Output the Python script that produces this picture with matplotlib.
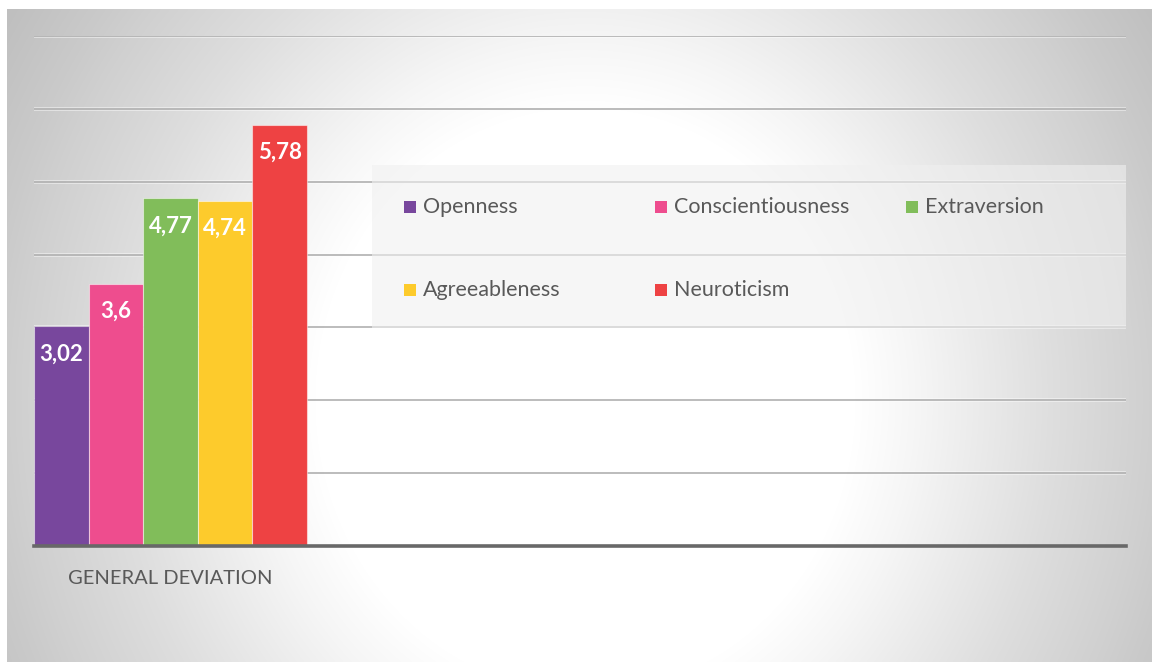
import numpy as np
import matplotlib.pyplot as plt
from matplotlib.patches import Rectangle

plt.rcParams['font.family'] = ['Lato', 'DejaVu Sans']

# data
category = "GENERAL DEVIATION"
traits = ["Openness", "Conscientiousness", "Extraversion", "Agreeableness", "Neuroticism"]
values = [3.02, 3.6, 4.77, 4.74, 5.78]
value_labels = ["3,02", "3,6", "4,77", "4,74", "5,78"]
colors = ["#78479D", "#EE4D8E", "#81BD5A", "#FDCB2C", "#EE4243"]
grid_levels = [1, 2, 3, 4, 5, 6, 7]

W, H = 1152, 662
fig = plt.figure(figsize=(W / 100, H / 100), dpi=100)

# radial grey background with a thin white margin at top and left
bg = fig.add_axes([0, 0, 1, 1], zorder=-10)
yy, xx = np.mgrid[0:H, 0:W]
d = np.sqrt(((xx - 585) / 600.0) ** 2 + ((yy - 400) / 650.0) ** 2)
shade = np.interp(d, [0.0, 0.45, 0.55, 0.78, 0.94, 1.0, 1.12, 1.4],
                  [255, 255, 246, 222, 208, 202, 192, 188])
shade[:9, :] = 255
shade[:, :7] = 255
img = np.dstack([shade, shade, shade]).astype(np.uint8)
bg.imshow(img, aspect='auto', interpolation='bilinear')
bg.axis('off')

# chart axes
left, right = 34 / W, 1126 / W
bottom, top = (H - 546) / H, (H - 36) / H
ax = fig.add_axes([left, bottom, right - left, top - bottom])
ax.set_facecolor('none')

for g in grid_levels:
    ax.axhline(g, color='white', lw=2.6, alpha=0.55, zorder=0.5)
    ax.axhline(g, color='#a9a9a9', lw=1.1, zorder=0.6)

x = np.arange(len(values))
bars = ax.bar(x, values, width=1.0, color=colors,
              edgecolor=(1, 1, 1, 0.5), linewidth=0.8, zorder=2)

for xi, v, lab in zip(x, values, value_labels):
    ax.annotate(lab, xy=(xi, v), xytext=(0, -20), textcoords='offset points',
                ha='center', va='center', color='white', fontsize=16,
                fontweight='bold', zorder=3)

ax.set_xlim(-0.5, 19.5)
ax.set_ylim(0, 7)
ax.set_yticks([])
ax.set_xticks([2])
ax.set_xticklabels([category], fontsize=14.5, color='#595959')
ax.tick_params(axis='x', length=0, pad=17)
for s in ['top', 'left', 'right']:
    ax.spines[s].set_visible(False)
ax.spines['bottom'].set_color('#686868')
ax.spines['bottom'].set_linewidth(2.6)
ax.spines['bottom'].set_zorder(4)

# legend box (semi-transparent panel with 3 columns)
fig.patches.append(Rectangle((372 / W, (H - 328) / H), (1126 - 372) / W, (328 - 165) / H,
                             transform=fig.transFigure, facecolor='#f0f0f0',
                             alpha=0.6, edgecolor='none', zorder=5))
col_x = [404, 655, 906]
row_y = [207, 290]
for i, (name, c) in enumerate(zip(traits, colors)):
    px = col_x[i % 3]
    py = row_y[i // 3]
    fig.patches.append(Rectangle((px / W, (H - py - 6) / H), 12 / W, 12 / H,
                                 transform=fig.transFigure, facecolor=c,
                                 edgecolor='none', zorder=6))
    fig.text((px + 19) / W, (H - py) / H, name, fontsize=15.5, color='#595959',
             ha='left', va='center', zorder=7)

fig.savefig('out.png', dpi=100)
